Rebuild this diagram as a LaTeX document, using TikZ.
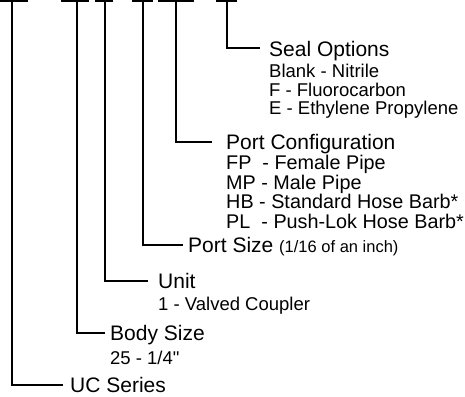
\documentclass[tikz,border=0pt]{standalone}
\usepackage{fontspec}
\setmainfont{Liberation Sans}
\newfontfamily\rawfont{Liberation Sans}[Ligatures=TeXOff]
\tikzset{
  conn/.style={line width=1.9pt, line cap=butt},
  bar/.style={line width=1.9pt},
  ttl/.style={anchor=base west, inner sep=0pt, font=\fontsize{21}{24}\selectfont},
  sub/.style={anchor=base west, inner sep=0pt, font=\fontsize{18.5}{22}\selectfont},
  subb/.style={anchor=base west, inner sep=0pt, font=\fontsize{19.8}{22}\selectfont},
}
\begin{document}
\begin{tikzpicture}[x=1pt,y=-1pt]
\useasboundingbox (0,0) rectangle (465,396);
% top bars
\draw[bar] (0,1) -- (28,1);
\draw[bar] (61,1) -- (89,1);
\draw[bar] (95,1) -- (113,1);
\draw[bar] (132,1) -- (153,1);
\draw[bar] (158,1) -- (194,1);
\draw[bar] (216,1) -- (237,1);
\coordinate (t1) at (12,1);
\coordinate (t2) at (77,1);
\coordinate (t3) at (105,1);
\coordinate (t4) at (143,1);
\coordinate (t5) at (176,1);
\coordinate (t6) at (227,1);
% labels
\node[ttl] (seal) at (269,56.5) {Seal Options};
\node[sub] (s1) at (269,77) {Blank - Nitrile};
\node[sub] (s2) at (269,96) {F - Fluorocarbon};
\node[sub] (s3) at (269,114) {E - Ethylene Propylene};
\node[ttl] (pc) at (226,149) {Port Configuration};
\node[subb] (p1) at (226,169) {FP\ \ - Female Pipe};
\node[subb] (p2) at (226,189) {MP - Male Pipe};
\node[subb] (p3) at (226,208.5) {HB - Standard Hose Barb*};
\node[subb] (p4) at (226,228) {PL\ \ - Push-Lok Hose Barb*};
\node[ttl] (ps) at (188,252.5) {Port Size {\fontsize{16.5}{20}\selectfont(1/16 of an inch)}};
\node[ttl] (un) at (158,288.5) {Unit};
\node[sub] (u1) at (158,310) {1 - Valved Coupler};
\node[ttl] (bs) at (110,340.5) {Body Size};
\node[sub] (b1) at (110,364) {\rawfont 25 - 1/4"};
\node[ttl] (uc) at (70,392.5) {UC Series};
% connectors
\coordinate (e6) at (260,48);
\coordinate (e5) at (212,142);
\coordinate (e4) at (183,245);
\coordinate (e3) at (148,281);
\coordinate (e2) at (105,333);
\coordinate (e1) at (63,385);
\draw[conn] (t6) |- (e6);
\draw[conn] (t5) |- (e5);
\draw[conn] (t4) |- (e4);
\draw[conn] (t3) |- (e3);
\draw[conn] (t2) |- (e2);
\draw[conn] (t1) |- (e1);
\end{tikzpicture}
\end{document}
